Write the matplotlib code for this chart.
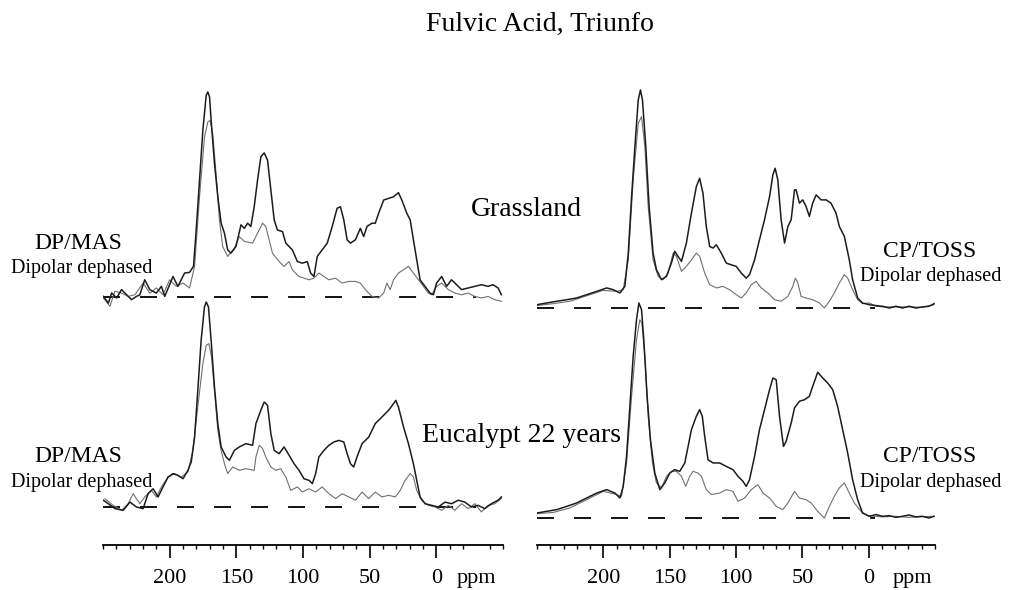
import numpy as np
import matplotlib.pyplot as plt
from matplotlib.ticker import MultipleLocator

plt.rcParams['font.family'] = ['Liberation Serif', 'DejaVu Serif']

# ---- DP/MAS, Grassland (intensity in % of the tallest peak)
dp_grass_ppm = [249.7, 246, 243.5, 239.8, 236.1, 232.3, 228.6, 224.9, 222.4, 218.7, 214.9, 210, 206.2, 203.7,
                197.5, 193.8, 188.8, 185.1, 182.1, 180.1, 177.6, 175.1, 172.6, 171.4, 170.1, 168.9, 166.4,
                163.9, 161.4, 158.9, 156.5, 154, 150.3, 146.5, 144, 141.5, 139.1, 136.6, 134.1, 131.6, 129.1,
                126.6, 124.1, 121.6, 119.2, 115.4, 112.9, 110.4, 108, 104.2, 100.5, 96.8, 94.3, 91.8, 89.3,
                85.6, 81.8, 78.1, 74.4, 71.9, 69.4, 66.9, 64.4, 60.7, 57, 54.5, 52, 48.3, 45.8, 43.3, 39.5,
                35.8, 32.1, 28.4, 25.9, 22.1, 19.6, 17.2, 14.7, 12.2, 8.5, 4.7, 2.2, -0.2, -4, -7.7, -11.4,
                -15.2, -18.9, -23.9, -28.9, -33.8, -38.8, -42.5, -46.3, -48.8]
dp_grass = [0.3, -3, 2, -0.5, 3.6, 1.1, -1.3, 0.3, 1, 8.4, 3.6, 1.9, 5.2, 0.3,
            10, 5.2, 11.7, 12, 15, 32.7, 57, 81.4, 98.4, 100, 97.6, 86.2, 65.2,
            49, 36, 31.1, 23, 21.4, 24.6, 35.2, 33.5, 36, 34.4, 44, 57, 68.4, 70.3,
            66.8, 52.2, 37.6, 32.7, 31.9, 26.3, 24.6, 23, 17.3, 16.5, 17.3, 11.7, 10, 19.8,
            23, 26.3, 34.4, 43.3, 44, 37.6, 27.9, 26.3, 27.9, 33.5, 29.5, 34.4, 36, 36, 40.8, 47.3,
            48.1, 48.9, 50.9, 47.3, 40.8, 37.6, 27.9, 18.2, 8.4, 5.2, 1.9, 1.1, 6.8, 10, 5.2, 8.4,
            6, 3.6, 4.4, 5.2, 6, 5.2, 6, 4.4, 1.1]
dp_grass_dd_ppm = [249.7, 244.8, 241, 236.1, 231.1, 226.1, 219.9, 214.9, 210, 205, 200, 195, 190, 185.1,
                   181.3, 177.6, 173.9, 171.4, 169.7, 167.7, 165.2, 162.7, 160.2, 156.5, 151.5, 147.8,
                   144, 137.8, 134.1, 130.3, 127.9, 125.4, 122.9, 117.9, 114.2, 110.4, 108, 103, 95.5,
                   91.8, 88.1, 84.3, 80.6, 75.6, 70.6, 65.7, 60.7, 57, 53.2, 48.3, 43.3, 39.5, 37.1,
                   34.6, 32.1, 28.4, 24.6, 20.9, 17.2, 13.4, 9.7, 6, 3.5, -0.2, -4, -9, -13.9, -18.9,
                   -23.9, -28.9, -33.8, -38.8, -43.8, -48.8]
dp_grass_dd = [-0.5, -4.5, 2.8, 1.9, 0.3, 1.1, 6.8, 1.9, 4.4, 1.1, 8.4, 5.2, 6.8, 4.4,
               15, 49, 78, 85.4, 86.2, 79.7, 60.3, 37.6, 24.6, 19.8, 23.8, 29.5,
               27.1, 26.3, 31.1, 36, 34.4, 27.9, 21.4, 17.3, 14.9, 17.3, 13.3, 10, 8.4,
               9.2, 11.7, 10, 8.4, 9.2, 6.8, 7.6, 7.6, 6.8, 3.6, 0.3, -0.5, 1.9, 6.8,
               3.6, 8.4, 11.7, 13.3, 14.9, 11.7, 8.4, 5.2, 1.9, 1.1, 5.2, 6.8, 3.6, 1.9, 1.1,
               1.9, 0.3, -0.5, 0.3, -1.3, -2.1]

# ---- DP/MAS, Eucalypt 22 years
dp_euc_ppm = [249.7, 246, 241, 234.8, 229.8, 224.9, 219.9, 216.2, 212.4, 208.7, 205, 201.2, 197.5, 193.8,
              190, 186.3, 183.8, 181.3, 178.9, 176.4, 173.9, 172.6, 170.9, 168.9, 166.4, 163.9, 161.4,
              157.7, 155.2, 151.5, 147.8, 142.8, 137.8, 135.3, 131.6, 129.1, 126.6, 124.1, 121.6, 117.9,
              114.2, 110.4, 106.7, 103, 99.3, 95.5, 93, 90.5, 88.1, 84.3, 80.6, 76.9, 73.1, 69.4, 66.9,
              64.4, 62, 59.5, 55.7, 50.7, 45.8, 40.8, 35.8, 32.1, 30.4, 28.4, 24.6, 20.9, 17.2, 14.7,
              12.2, 8.5, 3.5, -1.5, -6.5, -11.4, -16.4, -21.4, -26.4, -31.3, -36.3, -41.3, -46.3, -48.8]
dp_euc = [3.3, 1.6, -0.8, -1.6, 2.4, 0, -0.8, 6.5, 8.9, 4.9, 9.8, 14.6, 16.3, 15.4,
          13.8, 17.9, 22, 34.1, 56.9, 81.3, 97.6, 100, 97.6, 81.3, 58.5, 40.7, 29.3,
          24.4, 22.8, 27.6, 29.3, 30.9, 30.1, 40.7, 47.2, 51.2, 49.6, 35.8, 27.6, 26,
          29.3, 25.2, 21.1, 17.9, 13.8, 13, 11.4, 16.3, 24.4, 27.6, 30.1, 31.7, 32.5, 31.7, 26,
          21.1, 19.5, 24.4, 30.9, 34.1, 40.7, 43.9, 47.2, 50.4, 52, 48.8, 39, 30.9, 21.1, 13,
          4.9, 1.6, 0.8, 0, 2.4, 1.6, 3.3, 2.4, 0, 0.8, -0.8, 1.6, 3.3, 4.9]
dp_euc_dd_ppm = [248.5, 242.3, 236.1, 231.1, 227.4, 222.4, 218.7, 213.7, 210, 206.2, 201.2, 196.3, 191.3,
                 186.3, 182.6, 178.9, 175.1, 172.6, 170.6, 168.6, 166.4, 163.9, 161.4, 158.9, 156.5,
                 152.7, 147.8, 142.8, 136.6, 135.3, 132.8, 130.3, 127.9, 124.1, 120.4, 116.7, 112.9,
                 109.2, 104.2, 100.5, 95.5, 90.5, 85.6, 80.6, 75.6, 70.6, 65.7, 60.7, 55.7, 50.7, 45.8,
                 40.8, 35.8, 30.8, 27.1, 23.4, 19.6, 17.2, 14.7, 11, 6, 1, -4, -9, -13.9, -18.9, -23.9,
                 -28.9, -33.8, -38.8, -43.8, -48.8]
dp_euc_dd = [4, 0.8, -1.6, 1.6, 6.5, 1.6, 4.9, 8.1, 4.9, 9.8, 14.6, 16.3, 14.6,
             17.1, 27.6, 48.8, 69.9, 78.9, 79.7, 73.2, 56.9, 37.4, 27.6, 21.1, 16.3,
             19.5, 17.9, 18.7, 17.9, 24.4, 30.1, 28.5, 24.4, 19.5, 17.9, 18.7, 14.6,
             8.1, 9.8, 7.3, 8.9, 7.3, 9.8, 6.5, 4.1, 6.5, 4.9, 3.3, 7.3, 4.1, 7.3,
             4.9, 5.7, 4.9, 8.1, 13, 16.3, 14.6, 8.1, 3.3, 0.8, 0, -1.6, 0.8, -1.6, 1.6, -0.8,
             1.6, -2.4, 0.8, 1.6, 4.1]

# ---- CP/TOSS, Grassland
cp_grass_ppm = [250.2, 242.7, 235.1, 227.6, 220.1, 212.6, 205, 197.5, 192.5, 187.5, 183.8, 181.2, 178.7,
                176.2, 173.7, 172, 170.5, 168, 165.5, 162.5, 160, 156.2, 152.4, 148.7, 146.2, 143.7,
                141.1, 137.4, 133.6, 129.9, 127.4, 124.9, 122.4, 119.8, 117.3, 114.8, 111.1, 107.3,
                103.6, 99.8, 96, 92.3, 89.8, 86, 82.3, 78.5, 74.7, 72.2, 70.5, 68.5, 66, 63.4, 60.9,
                58.4, 55.9, 54.7, 52.2, 49.7, 47.2, 44.7, 42.2, 39.6, 35.9, 32.1, 28.4, 24.6, 22.1,
                18.3, 14.6, 12.1, 8.3, 4.6, -0.5, -5.5, -10.5, -15.5, -20.5, -25.5, -30.5, -35.5,
                -40.5, -45.5, -49.3]
cp_grass = [1.5, 2.3, 3.1, 3.8, 4.6, 6.1, 7.6, 9.2, 8.4, 6.9, 9.9, 25.2, 51.1,
            74, 95.4, 100, 95.4, 74, 46.6, 25.2, 17.6, 13, 14.5, 20.6, 26, 23.7,
            21.4, 29.8, 43.5, 55.7, 59.5, 52.7, 37.4, 28.2, 27.5, 29, 25.2, 20.6,
            19.8, 19.1, 16, 13.7, 15.3, 22.1, 31.3, 40.5, 51.1, 61.1, 64.1, 58.8, 40.5, 29.8, 37.4,
            40.5, 54.2, 54.2, 48.1, 49.6, 46.6, 42, 48.1, 51.9, 49.6, 49.6, 48.1, 43.5, 37.4,
            32.8, 22.1, 13, 4.6, 2.3, 1.5, 1.1, 0.8, 0, 0.8, 0, 0.8, 0,
            0.5, 0.8, 2]
cp_grass_dd_ppm = [250.2, 237.6, 225.1, 212.6, 200, 190, 185, 181.2, 177.5, 173.7, 171.2, 168.7, 166.2,
                   162.5, 158.7, 155, 151.2, 147.4, 144.9, 141.1, 137.4, 133.6, 129.9, 127.4, 123.6,
                   119.8, 114.8, 109.8, 104.8, 99.8, 96, 92.3, 88.5, 84.8, 81, 76, 71, 66, 60.9, 57.2,
                   55.2, 53.4, 50.9, 47.2, 42.2, 37.1, 33.4, 29.6, 25.9, 22.1, 18.3, 15.8, 12.1, 8.3,
                   4.6, -0.5, -5.5, -10.5, -20.5, -30.5, -40.5, -49.3]
cp_grass_dd = [1.1, 2, 3.1, 5.6, 8.1, 7.6, 8.4, 22.1, 58.8, 84.7, 87.8, 74, 46.6,
               22.1, 14.5, 13, 16, 25.2, 23.7, 16.8, 19.1, 22.1, 25.2, 23.7, 16,
               10.7, 9.2, 9.9, 8.4, 6.1, 4.6, 6.9, 10.7, 12.2, 9.2, 6.9, 3.8, 3.1, 5.3, 9.9,
               13.7, 11.5, 5.3, 4.6, 3.8, 2.3, 0, 3.1, 6.9, 11.5, 15.3, 13.7, 8.4, 3.8,
               2, 2.3, 0.8, 0.5, 0.5, 0.5, 0.3, 1.5]

# ---- CP/TOSS, Eucalypt 22 years
cp_euc_ppm = [250.2, 242.7, 235.1, 227.6, 220.1, 212.6, 205, 197.5, 191.3, 187.5, 185, 182.5, 180,
              177.5, 175, 173.2, 171.2, 169.5, 167, 164.5, 161.2, 157.4, 153.7, 149.9, 146.2, 142.4,
              138.6, 136.1, 133.6, 129.9, 127.4, 125.4, 123.6, 121.1, 117.3, 112.3, 107.3, 102.3,
              98.5, 94.8, 92.3, 89.8, 86, 82.3, 78.5, 74.7, 72.2, 69.7, 67.2, 64.2, 62.2, 58.4, 55.9,
              52.2, 48.4, 44.7, 42.2, 38.4, 34.6, 30.9, 27.1, 23.4, 19.6, 15.8, 12.1, 8.3, 4.6, -0.5,
              -5.5, -10.5, -15.5, -20.5, -25.5, -30.5, -35.5, -40.5, -45.5, -49.3]
cp_euc = [2.3, 3.1, 3.9, 5.4, 7, 9.3, 11.6, 13.2, 11.6, 9.3, 14.7, 28.7, 51.9,
          75.2, 92.2, 100, 96.9, 82.9, 56.6, 36.4, 20.9, 13.2, 16.3, 20.9, 22.5, 21.7,
          25.6, 33.3, 41.1, 47.3, 50.4, 47.3, 38, 27.1, 25.6, 25.6, 24, 22.5,
          19.4, 17.1, 14.7, 17.8, 28.7, 41.1, 50.4, 59.7, 65.1, 64.3, 47.3, 33.3, 35.7, 44.2, 51.2,
          54.3, 55, 56.6, 61.2, 67.8, 65.1, 62.8, 59.7, 51.9, 41.1, 30.2, 17.8, 8.5, 2.3, 0.8,
          1.6, 0.8, 1.1, 0.3, 0.8, 1.4, 0.5, 0.8, 0, 0.8]
cp_euc_dd_ppm = [250.2, 237.6, 225.1, 212.6, 200, 190, 186.3, 182.5, 178.7, 175, 172.5, 171, 168.7,
                 166.2, 163, 160, 156.2, 152.4, 148.7, 144.9, 141.1, 137.9, 134.9, 132.4, 128.6, 126.1,
                 122.4, 118.6, 112.3, 107.3, 102.3, 98.5, 93.5, 88.5, 83.5, 79.7, 74.7, 69.7, 64.7,
                 60.9, 55.9, 52.2, 47.2, 43.4, 38.4, 33.4, 29.6, 25.9, 22.1, 18.3, 14.6, 10.8, 5.8,
                 0.8, -10, -20, -30, -40, -49.3]
cp_euc_dd = [2, 2.6, 4.7, 8.5, 12.4, 10.9, 10.1, 25.6, 56.6, 82.9, 92.2, 90.7, 75.2,
             47.3, 25.6, 16.3, 14, 19.4, 21.7, 21.7, 19.4, 14.7, 19.4, 21.7, 20.9, 19.4,
             13.2, 10.9, 11.6, 13.2, 12.4, 7.8, 9.3, 13.2, 15.5, 11.6, 9.3, 5.4, 3.9,
             7, 12.4, 9.3, 8.5, 7, 3.1, 0, 5.4, 10.1, 14, 16.3, 11.6, 7, 3.1,
             1.1, 0.5, 0.8, 0.3, 0.6, 0.8]

W, H = 1010, 590
fig = plt.figure(figsize=(W / 100, H / 100), dpi=100)

def px(x, y):
    return x / W, 1 - y / H

def make_axis(x0, x1, ppm_pos):
    ax = fig.add_axes([x0 / W, (H - 545) / H, (x1 - x0) / W, 470 / H])
    ax.set_xlim(250, -50)
    ax.set_ylim(0, 470)
    for s in ['top', 'left', 'right']:
        ax.spines[s].set_visible(False)
    ax.spines['bottom'].set_linewidth(1.3)
    ax.set_yticks([])
    ax.set_xticks([200, 150, 100, 50, 0, ppm_pos])
    ax.set_xticklabels(['200', '150', '100', '50', '0', 'ppm'])
    ax.xaxis.set_minor_locator(MultipleLocator(10))
    ax.tick_params(axis='x', which='major', length=9.5, width=1.2, direction='out',
                   labelsize=16, pad=8)
    ax.tick_params(axis='x', which='minor', length=3, width=1.0, direction='out')
    ax.xaxis.get_major_ticks()[-1].tick1line.set_visible(False)
    ax.patch.set_visible(False)
    return ax

def spectrum(ax, base, scale, ppm, main, ppm_dd, dd, base_end):
    ax.plot([250, base_end], [base, base], color='black', lw=1.3, ls=(0, (9.4, 11.1)))
    ax.plot(ppm_dd, base + scale * np.array(dd) / 100, color='#707070', lw=0.8)
    ax.plot(ppm, base + scale * np.array(main) / 100, color='#1c1c1c', lw=1.1)

ax_l = make_axis(103, 503, -30)
ax_r = make_axis(537, 935, -33)

spectrum(ax_l, 248, 205, dp_grass_ppm, dp_grass, dp_grass_dd_ppm, dp_grass_dd, -30)
spectrum(ax_l, 38, 205, dp_euc_ppm, dp_euc, dp_euc_dd_ppm, dp_euc_dd, -30)
spectrum(ax_r, 237, 218, cp_grass_ppm, cp_grass, cp_grass_dd_ppm, cp_grass_dd, -5)
spectrum(ax_r, 27, 215, cp_euc_ppm, cp_euc, cp_euc_dd_ppm, cp_euc_dd, -5)

fig.text(*px(540, 24), 'Fulvic Acid, Triunfo', fontsize=20, ha='center', va='center')
fig.text(*px(526, 210), 'Grassland', fontsize=20, ha='center', va='center')
fig.text(*px(521, 435), 'Eucalypt 22 years', fontsize=20, ha='center', va='center')

for y in (243, 457):
    fig.text(*px(78, y), 'DP/MAS', fontsize=17, ha='center', va='center')
    fig.text(*px(82, y + 26), 'Dipolar dephased', fontsize=14.5, ha='center', va='center')
for y in (251, 456):
    fig.text(*px(930, y), 'CP/TOSS', fontsize=17, ha='center', va='center')
    fig.text(*px(931, y + 26), 'Dipolar dephased', fontsize=14.5, ha='center', va='center')

fig.savefig('out.png', dpi=100)
